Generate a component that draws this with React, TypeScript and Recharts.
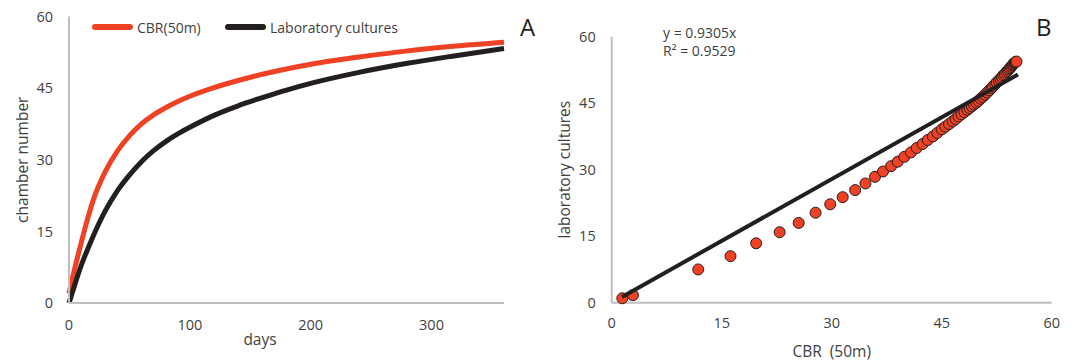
import React from "react";
import {
  LineChart,
  Line,
  ScatterChart,
  Scatter,
  XAxis,
  YAxis,
  Legend,
  Label,
} from "recharts";

// panel A: chamber number over time
const days = [0, 5, 10, 15, 20, 30, 40, 50, 60, 70, 80, 90, 100, 120, 140, 160, 180, 200, 240, 280, 320, 360];
const cbrCurve = [2.0, 7.5, 12.5, 17.3, 21.5, 27.5, 31.8, 35.0, 37.5, 39.4, 40.9, 42.2, 43.3, 45.1, 46.6, 47.9, 49.0, 50.0, 51.5, 52.8, 53.8, 54.6];
const labCurve = [0, 4.0, 7.8, 11.0, 14.0, 19.3, 23.5, 26.8, 29.6, 31.9, 33.8, 35.4, 36.8, 39.3, 41.3, 43.0, 44.6, 46.0, 48.3, 50.2, 51.8, 53.3];
const dayTicks = [0, 100, 200, 300];
const valueTicks = [0, 15, 30, 45, 60];

// panel B: lab cultures vs CBR
const cbrPoints = [
  1.45, 2.9, 11.8, 16.2, 19.7, 22.9, 25.5, 27.8, 29.8, 31.5, 33.2, 34.6, 35.9, 37.0, 38.1, 39.0, 39.9, 40.8,
  41.6, 42.4, 43.1, 43.8, 44.4, 45.0, 45.5, 46.0, 46.5, 46.9, 47.3, 47.7, 48.1, 48.5, 48.8, 49.1, 49.4, 49.7,
  50.0, 50.3, 50.6, 50.9, 51.2, 51.5, 51.8, 52.0, 52.3, 52.5, 52.8, 53.0, 53.2, 53.4, 53.6, 53.8, 54.0, 54.15,
  54.3, 54.45, 54.6, 54.7, 54.8, 54.9, 55.0, 55.1, 55.2,
];
const labPoints = [
  1.0, 1.7, 7.5, 10.5, 13.4, 15.9, 18.0, 20.3, 22.2, 23.8, 25.4, 26.9, 28.4, 29.6, 30.8, 31.8, 32.9, 33.9,
  34.9, 35.8, 36.7, 37.5, 38.3, 39.1, 39.7, 40.3, 40.9, 41.4, 42.0, 42.5, 43.0, 43.5, 43.9, 44.3, 44.7, 45.1,
  45.5, 46.0, 46.4, 46.9, 47.4, 47.9, 48.4, 48.8, 49.3, 49.7, 50.1, 50.5, 50.9, 51.3, 51.6, 52.0, 52.3, 52.6,
  52.9, 53.2, 53.5, 53.7, 53.9, 54.05, 54.2, 54.3, 54.4,
];
const trendX = [1.4, 55.4];
const trendY = [1.3, 51.5];

const RED = "#EF4123";
const DARK = "#231F20";
const AXIS = "#BFBFBF";
const TEXT = "#3F3F3F";
const FONT = "'Open Sans', sans-serif";

const curveData = days.map((d, i) => ({ day: d, cbr: cbrCurve[i], lab: labCurve[i] }));
const scatterData = cbrPoints.map((x, i) => ({ x, y: labPoints[i] }));
const trendData = trendX.map((x, i) => ({ x, y: trendY[i] }));

const tickStyle = { fontSize: 14.5, fill: TEXT, fontFamily: FONT };

const LegendBox = () => (
  <div style={{ position: "relative", width: 320, height: 20, fontFamily: FONT, fontSize: 14, color: TEXT }}>
    {[
      { name: "CBR(50m)", color: RED, left: 0 },
      { name: "Laboratory cultures", color: DARK, left: 133 },
    ].map((it) => (
      <div key={it.name} style={{ position: "absolute", left: it.left, top: 0, height: 20, display: "flex", alignItems: "center" }}>
        <svg width={42} height={20}>
          <line x1={3} x2={38} y1={10} y2={10} stroke={it.color} strokeWidth={6} strokeLinecap="round" />
        </svg>
        <span style={{ marginLeft: 3, whiteSpace: "nowrap" }}>{it.name}</span>
      </div>
    ))}
  </div>
);

const axisTitle = (text: string, vertical: boolean, dx = 0, dy = 0) => (props: any) => {
  const vb = props.viewBox;
  const cx = vb.x + vb.width / 2 + dx;
  const cy = vb.y + vb.height / 2 + dy;
  return (
    <text
      x={cx}
      y={cy}
      textAnchor="middle"
      dominantBaseline="central"
      transform={vertical ? `rotate(-90 ${cx} ${cy})` : undefined}
      style={{ fontFamily: FONT, fontSize: 15.5, fill: TEXT, whiteSpace: "pre" }}
    >
      {text}
    </text>
  );
};

export default function App() {
  return (
    <div style={{ position: "absolute", left: 0, top: 0, width: 1075, height: 362, background: "#fff" }}>
      <div style={{ position: "absolute", left: 0, top: 0 }}>
        <LineChart width={540} height={362} data={curveData} margin={{ top: 16.5, right: 36, bottom: 0, left: 0 }}>
          <XAxis
            dataKey="day"
            type="number"
            domain={[0, 360]}
            ticks={dayTicks}
            axisLine={{ stroke: AXIS, strokeWidth: 2 }}
            tickLine={false}
            tickMargin={11}
            tick={tickStyle}
            height={59}
          >
            <Label content={axisTitle("days", false, -26.5, 6)} />
          </XAxis>
          <YAxis
            type="number"
            domain={[0, 60]}
            ticks={valueTicks}
            axisLine={{ stroke: AXIS, strokeWidth: 2 }}
            tickLine={false}
            tickMargin={10}
            tick={tickStyle}
            width={69}
          >
            <Label content={axisTitle("chamber number", true, -12.8, 0)} />
          </YAxis>
          <Legend
            layout="horizontal"
            verticalAlign="middle"
            align="center"
            wrapperStyle={{ left: 92, top: 17, width: "auto", height: "auto" }}
            content={() => <LegendBox />}
          />
          <Line type="monotone" dataKey="cbr" name="CBR(50m)" stroke={RED} strokeWidth={5} dot={false} isAnimationActive={false} />
          <Line type="monotone" dataKey="lab" name="Laboratory cultures" stroke={DARK} strokeWidth={5} dot={false} isAnimationActive={false} />
        </LineChart>
      </div>
      <div style={{ position: "absolute", left: 540, top: 0 }}>
        <ScatterChart width={535} height={362} margin={{ top: 36.7, right: 23.3, bottom: 0, left: 0 }}>
          <XAxis
            dataKey="x"
            type="number"
            domain={[0, 60]}
            ticks={valueTicks}
            axisLine={{ stroke: AXIS, strokeWidth: 2 }}
            tickLine={false}
            tickMargin={9}
            tick={tickStyle}
            height={59.3}
          >
            <Label content={axisTitle("CBR  (50m)", false, 0, 19)} />
          </XAxis>
          <YAxis
            dataKey="y"
            type="number"
            domain={[0, 60]}
            ticks={valueTicks}
            axisLine={{ stroke: AXIS, strokeWidth: 2 }}
            tickLine={false}
            tickMargin={10}
            tick={tickStyle}
            width={71.7}
          >
            <Label content={axisTitle("laboratory cultures", true, -11.8, 0)} />
          </YAxis>
          <Scatter
            data={scatterData}
            isAnimationActive={false}
            shape={(p: any) => <circle cx={p.cx} cy={p.cy} r={5.5} fill={RED} stroke={DARK} strokeWidth={1} />}
          />
          <Scatter
            data={trendData}
            isAnimationActive={false}
            line={{ stroke: DARK, strokeWidth: 4 }}
            shape={() => <g />}
          />
        </ScatterChart>
      </div>
      <svg
        width={1075}
        height={362}
        style={{ position: "absolute", left: 0, top: 0, pointerEvents: "none", fontFamily: FONT }}
      >
        <text x={520} y={36} fontSize={24} fill={DARK}>A</text>
        <text x={1036} y={36} fontSize={24} fill={DARK}>B</text>
        <text x={663} y={37.5} fontSize={14} fill={TEXT}>y = 0.9305x</text>
        <text x={663} y={56} fontSize={14} fill={TEXT}>R² = 0.9529</text>
      </svg>
    </div>
  );
}
